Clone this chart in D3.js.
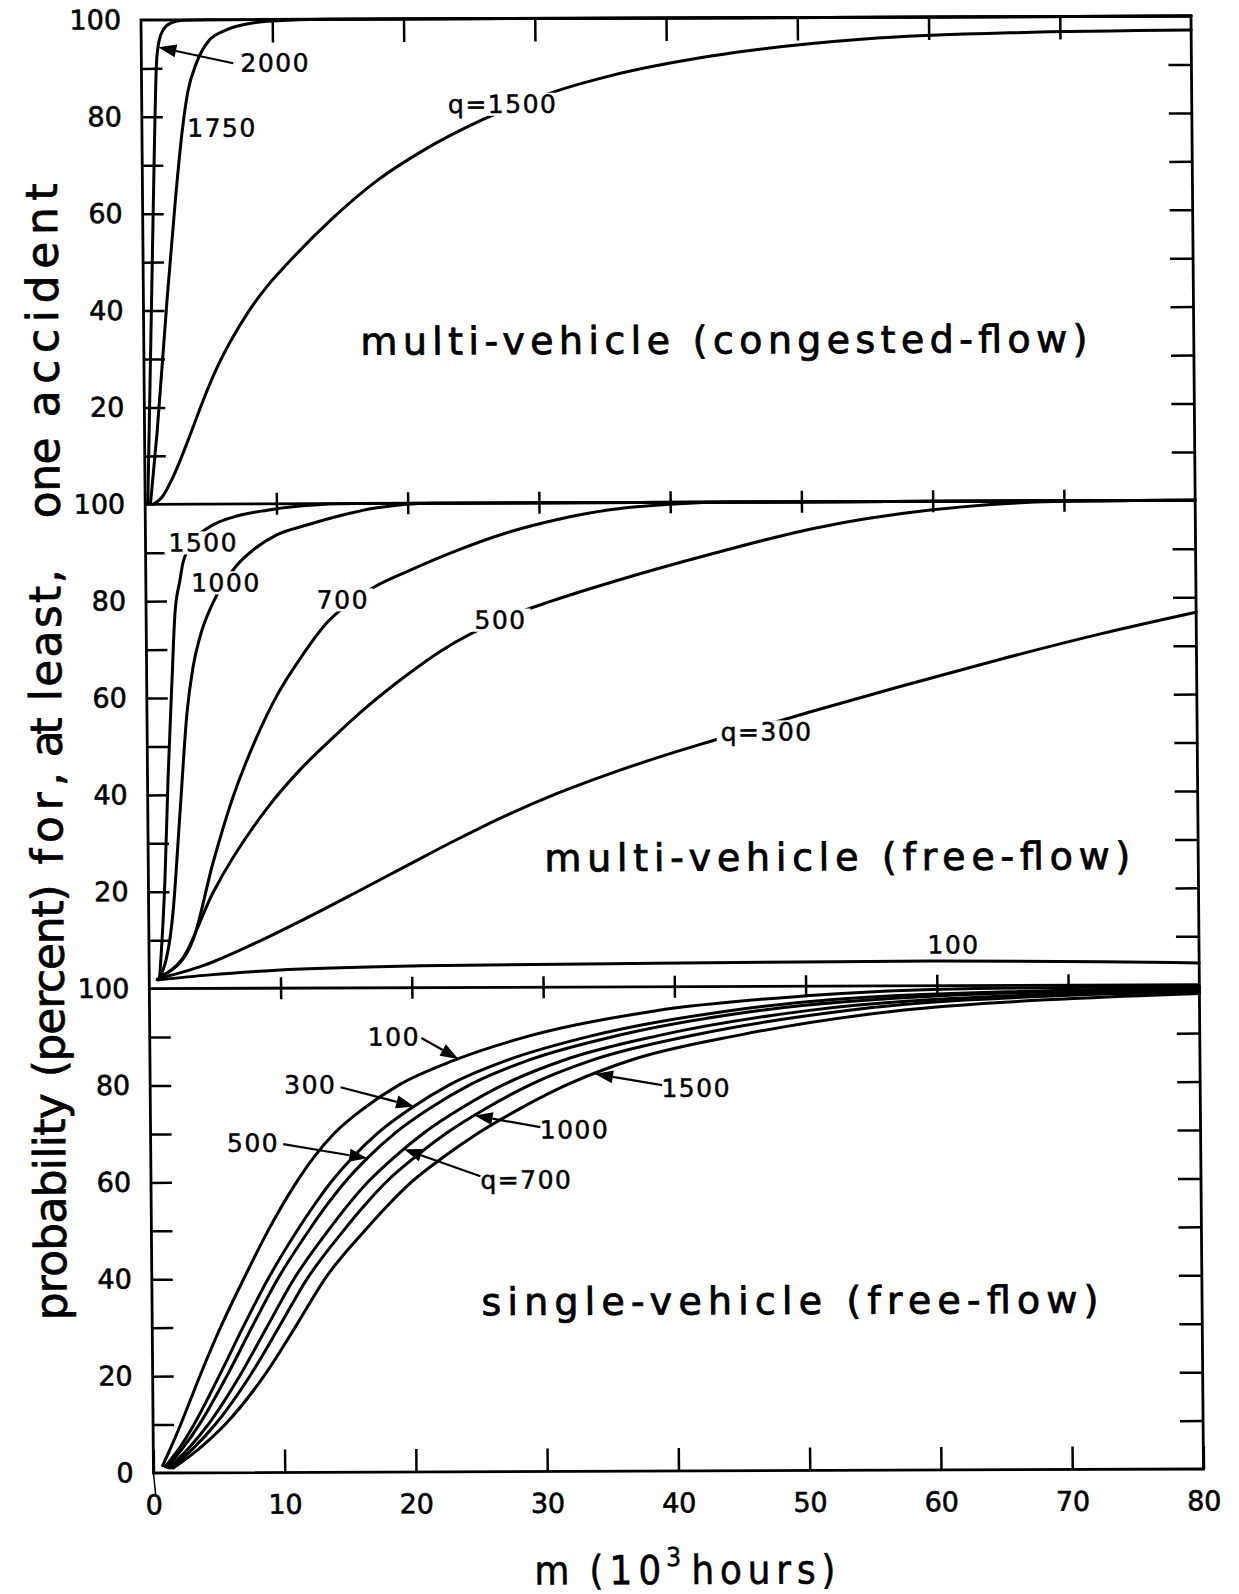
<!DOCTYPE html>
<html>
<head>
<meta charset="utf-8">
<script src="https://cdn.jsdelivr.net/npm/d3@7"></script>
<style>
  html, body { margin: 0; padding: 0; background: #fff; }
  svg { display: block; }
  text { font-family: "DejaVu Sans", "Liberation Sans", sans-serif; fill: #000; }
</style>
</head>
<body>
<svg id="chart" width="1239" height="1594"></svg>
<script>
// ---- axis values --------------------------------------------------------
const xTickValues = [0, 10, 20, 30, 40, 50, 60, 70, 80];      // m, 10^3 hours
const xInnerTicks = [10, 20, 30, 40, 50, 60, 70];
const yMinorTicks = [10, 20, 30, 40, 50, 60, 70, 80, 90];      // percent
const yLabelsUpper = [20, 40, 60, 80, 100];
const yLabelsLower = [0, 20, 40, 60, 80, 100];

const panelTitles = [
  "multi-vehicle (congested-flow)",
  "multi-vehicle (free-flow)",
  "single-vehicle (free-flow)"
];

// ---- multi-vehicle, congested flow: [m, probability %] ------------------
const congested2000 = [[0.2,0],[0.45,25],[0.7,50],[0.95,75],[1.15,91],[1.35,95.5],[1.7,98],[2.3,99.4],[3.2,99.9],[5,100],[80,100]];
const congested1750 = [[0.4,0],[0.95,14.7],[1.8,42.2],[2.5,62.8],[3.05,76.7],[3.5,84.9],[4.2,91.1],[5.2,95.8],[6.5,97.9],[8.5,99.3],[10,99.7],[14,100],[80,100]];
const congested1500 = [[0.6,0],[1.3,1.5],[2.1,5.4],[3.5,14.5],[4.5,21.5],[5.5,27.8],[6.7,34],[7.9,39.3],[9.4,44.8],[11,49.6],[14.5,59],[17.9,66.7],[21.2,72.5],[26,79.2],[31.7,85.1],[35.7,88.1],[43.4,92.1],[55.1,95.5],[66.7,96.7],[80,97.1]];

// ---- multi-vehicle, free flow --------------------------------------------
const free1500 = [[0.8,2.4],[1.26,22.4],[1.56,43.1],[1.93,63.7],[2.2,77.5],[2.6,84.3],[2.84,87.9],[3.8,92.8],[5.16,95.7],[6.7,97.3],[9.3,98.7],[12,99.6],[16,100],[80,100]];
const free1000 = [[0.85,2.8],[1.05,3.8],[1.85,15.6],[2.45,36.2],[3.05,56.9],[3.54,66.4],[4.09,72.6],[5.1,79.6],[6.96,87.4],[8.2,90.5],[10,93.6],[12.3,95.6],[15.6,98],[17.4,99],[22,100],[80,100]];
const free700  = [[0.8,2.5],[1.36,3.2],[3.36,10],[4.93,25.9],[6.5,39.5],[8.37,52],[9.93,60.5],[11.7,68],[13.8,75.5],[15.5,79.5],[17.5,82.9],[19.9,85.9],[23.7,90.2],[27.6,93.9],[31.5,96.6],[35.4,98.5],[40,99.6],[45,100],[80,100]];
const free500  = [[0.8,2.4],[2.5,6],[4.9,19.7],[9.1,37.2],[11.6,45],[14.2,51.8],[16.8,58.1],[19.7,64.3],[22.5,69.6],[27,75.9],[31,79.8],[35.4,83.5],[43.1,89.3],[50.9,94.5],[59.8,98.2],[65.7,99.5],[72,100],[80,100]];
const free300  = [[0.63,2],[4.1,4.7],[8,9.2],[11.9,14.3],[15.8,19.7],[19.7,25.2],[23.5,30.5],[27.4,35.6],[31.3,40.1],[35.2,44.0],[39.1,47.5],[43,50.7],[50.5,56.6],[57.4,61.8],[65,67.3],[72.7,72.5],[80,76.9]];
const free100  = [[0.6,1.8],[4.6,2.8],[9.7,3.7],[20.7,4.5],[35.1,4.8],[49.6,5.0],[59.6,5.1],[72.5,4.8],[80,4.5]];

// ---- single-vehicle, free flow -------------------------------------------
const single100  = [[0.7,1.5],[1.3,5],[2.1,10],[3.6,20],[5.2,30],[7.0,40],[8.9,50],[9.95,55],[11.1,60],[12.4,65],[14.0,70],[16.2,75],[19.0,80],[23.2,85],[29.0,90],[38.5,95],[50,98],[63,99.4],[80,99.7]];
const single300  = [[0.9,1.3],[1.96,5],[3.12,10],[5.07,20],[6.91,30],[8.86,40],[11.12,50],[12.37,55],[13.74,60],[15.37,65],[17.3,70],[19.8,75],[22.87,80],[27.28,85],[33.8,90],[44.2,95],[57,98],[80,99.3]];
const single500  = [[1.0,1.2],[2.22,5],[3.53,10],[5.66,20],[7.59,30],[9.6,40],[12.01,50],[13.33,55],[14.8,60],[16.56,65],[18.62,70],[21.24,75],[24.42,80],[28.91,85],[35.72,90],[46.48,95],[61,98],[80,99.1]];
const single700  = [[1.15,1.1],[2.66,5],[4.21,10],[6.64,20],[8.73,30],[10.84,40],[13.49,50],[14.94,55],[16.56,60],[18.54,65],[20.82,70],[23.64,75],[27.0,80],[31.63,85],[38.92,90],[50.28,95],[67,98],[80,98.8]];
const single1000 = [[1.3,1.0],[3.02,5],[4.75,10],[7.42,20],[9.65,30],[11.84,40],[14.67,50],[16.23,55],[17.96,60],[20.12,65],[22.58,70],[25.56,75],[29.06,80],[33.81,85],[41.48,90],[53.32,95],[71,98],[80,98.5]];
const single1500 = [[1.5,1.0],[3.5,5],[5.5,10],[8.5,20],[10.9,30],[13.2,40],[16.3,50],[18.0,55],[19.9,60],[22.3,65],[25.0,70],[28.2,75],[31.9,80],[36.8,85],[45.0,90],[57.5,95],[70,97.2],[80,98.2]];

// ---- curve labels (positions in m / percent) ----------------------------
const congestedLabels = [
  { text: "2000",   x: 10.2, y: 91.0, arrow: { curve: congested2000, tipX: 1.3, tailX: 7.0, tailY: 91.0 } },
  { text: "1750",   x: 6.1,  y: 77.6 },
  { text: "q=1500", x: 27.5, y: 82.3, mask: true }
];
const freeLabels = [
  { text: "1500",  x: 4.4,  y: 92.0, mask: true },
  { text: "1000",  x: 6.1,  y: 83.7, mask: true },
  { text: "700",   x: 15.0, y: 80.1, mask: true },
  { text: "500",   x: 27.0, y: 75.8, mask: true },
  { text: "q=300", x: 47.2, y: 52.5, mask: true },
  { text: "100",   x: 61.3, y: 8.4 }
];
const singleLabels = [
  { text: "100",   x: 18.6, y: 89.8, arrow: { curve: single100,  tipX: 23.5, tailX: 20.7, tailY: 89.6 } },
  { text: "300",   x: 12.2, y: 80.0, arrow: { curve: single300,  tipX: 20.1, tailX: 14.5, tailY: 79.5 } },
  { text: "500",   x: 7.8,  y: 68.0, arrow: { curve: single500,  tipX: 16.5, tailX: 10.1, tailY: 67.8 } },
  { text: "q=700", x: 28.6, y: 60.2, arrow: { curve: single700,  tipX: 19.3, tailX: 25.1, tailY: 61.0 } },
  { text: "1000",  x: 32.3, y: 70.5, arrow: { curve: single1000, tipX: 24.7, tailX: 29.7, tailY: 71.1 } },
  { text: "1500",  x: 41.6, y: 79.0, arrow: { curve: single1500, tipX: 33.9, tailX: 39.0, tailY: 79.7 } }
];

const panels = [
  { title: panelTitles[0], titleX: 44.2, titleY: 33.4, titleW: 727,
    curves: [congested2000, congested1750, congested1500], labels: congestedLabels, yLabels: yLabelsUpper },
  { title: panelTitles[1], titleX: 52.5, titleY: 26.6, titleW: 586,
    curves: [free1500, free1000, free700, free500, free300, free100], labels: freeLabels, yLabels: yLabelsUpper },
  { title: panelTitles[2], titleX: 48.6, titleY: 35.0, titleW: 617,
    curves: [single100, single300, single500, single700, single1000, single1500], labels: singleLabels, yLabels: yLabelsLower }
];

// ---- layout ---------------------------------------------------------------
const W = 1050, H = 1453, PH = H / 3;
const svg = d3.select("#chart");
svg.append("rect").attr("width", 1239).attr("height", 1594).attr("fill", "#fff");

// the whole figure sits slightly askew on the page
const g = svg.append("g")
  .attr("transform", "translate(141,20) matrix(1,-0.0038,0.0086,1,0,0)");

const x = d3.scaleLinear().domain([0, 80]).range([0, W]);

function ink(sel, w) {
  return sel.attr("stroke", "#000").attr("stroke-width", w).attr("paint-order", "stroke");
}

function styleAxis(sel, width) {
  sel.select(".domain").remove();
  sel.attr("font-family", null).attr("font-size", null);
  sel.selectAll("line").attr("stroke", "#000").attr("stroke-width", width);
  sel.selectAll("text").attr("font-size", 27).attr("fill", "#000").call(ink, 0.6);
}

function interpY(curve, xv) {
  for (let i = 1; i < curve.length; i++) {
    if (xv <= curve[i][0]) {
      const [x0, y0] = curve[i - 1], [x1, y1] = curve[i];
      return y0 + (y1 - y0) * (xv - x0) / (x1 - x0);
    }
  }
  return curve[curve.length - 1][1];
}

panels.forEach((p, i) => {
  const top = i * PH;
  const y = d3.scaleLinear().domain([0, 100]).range([top + PH, top]);

  // inward ticks on left and right edges
  g.append("g").call(d3.axisLeft(y).tickValues(yMinorTicks).tickSize(-21).tickFormat(""))
    .call(s => styleAxis(s, 2.5));
  g.append("g").attr("transform", `translate(${W},0)`)
    .call(d3.axisRight(y).tickValues(yMinorTicks).tickSize(-23).tickFormat(""))
    .call(s => styleAxis(s, 2.5));
  // tick labels on the left
  g.append("g").call(d3.axisLeft(y).tickValues(p.yLabels).tickSize(0).tickPadding(20).tickFormat(d3.format("d")))
    .call(s => styleAxis(s, 0));

  // curves
  const line = d3.line().x(d => x(d[0])).y(d => y(d[1])).curve(d3.curveMonotoneX);
  g.append("g").selectAll("path").data(p.curves).join("path")
    .attr("d", line)
    .attr("fill", "none").attr("stroke", "#000").attr("stroke-width", 3)
    .attr("stroke-linejoin", "round").attr("stroke-linecap", "round");

  // curve labels
  const lg = g.append("g");
  p.labels.forEach(l => {
    const t = lg.append("text")
      .attr("x", x(l.x)).attr("y", y(l.y))
      .attr("text-anchor", "middle").attr("dominant-baseline", "central")
      .attr("font-size", 25).attr("letter-spacing", 1.5)
      .call(ink, 0.5)
      .text(l.text);
    if (l.mask) {
      const bb = t.node().getBBox();
      lg.insert("rect", () => t.node())
        .attr("x", bb.x - 4).attr("y", bb.y + 3)
        .attr("width", bb.width + 8).attr("height", bb.height - 6)
        .attr("fill", "#fff");
    }
    if (l.arrow) {
      const a = l.arrow;
      const tx = x(a.tipX), ty = y(interpY(a.curve, a.tipX));
      const sx = x(a.tailX), sy = y(a.tailY);
      const dx = tx - sx, dy = ty - sy, len = Math.hypot(dx, dy);
      const ux = dx / len, uy = dy / len;
      const hl = 18, hw = 6.5;
      const bx = tx - ux * hl, by = ty - uy * hl;
      lg.append("line").attr("x1", sx).attr("y1", sy).attr("x2", bx).attr("y2", by)
        .attr("stroke", "#000").attr("stroke-width", 2.2);
      lg.append("path")
        .attr("d", `M${tx},${ty}L${bx - uy * hw},${by + ux * hw}L${bx + uy * hw},${by - ux * hw}Z`)
        .attr("fill", "#000");
    }
  });

  // panel title
  g.append("text")
    .attr("x", x(p.titleX)).attr("y", y(p.titleY))
    .attr("text-anchor", "middle").attr("dominant-baseline", "central")
    .attr("font-size", 38).call(ink, 0.8)
    .attr("textLength", p.titleW).attr("lengthAdjust", "spacing")
    .text(p.title);
});

// ticks along the top edge and across the panel boundaries
g.append("g").call(d3.axisTop(x).tickValues(xInnerTicks).tickSize(-23).tickFormat(""))
  .call(s => styleAxis(s, 2.5));
[PH, 2 * PH].forEach(yy => {
  g.append("g").attr("transform", `translate(0,${yy})`)
    .call(d3.axisBottom(x).tickValues(xInnerTicks).tickSize(11).tickFormat(""))
    .call(s => styleAxis(s, 2.5));
  g.append("g").attr("transform", `translate(0,${yy})`)
    .call(d3.axisTop(x).tickValues(xInnerTicks).tickSize(11).tickFormat(""))
    .call(s => styleAxis(s, 2.5));
});
// bottom axis with labels
g.append("g").attr("transform", `translate(0,${H})`)
  .call(d3.axisBottom(x).tickValues(xTickValues).tickSize(-23).tickPadding(22).tickFormat(d3.format("d")))
  .call(s => styleAxis(s, 2.5));

// frame and panel dividers
g.append("rect").attr("x", 0).attr("y", 0).attr("width", W).attr("height", H)
  .attr("fill", "none").attr("stroke", "#000").attr("stroke-width", 2.8);
[PH, 2 * PH].forEach(yy => {
  g.append("line").attr("x1", 0).attr("x2", W).attr("y1", yy).attr("y2", yy)
    .attr("stroke", "#000").attr("stroke-width", 2.8);
});
g.append("line").attr("x1", 0).attr("x2", 2).attr("y1", H).attr("y2", H + 22)
  .attr("stroke", "#000").attr("stroke-width", 1.5);

// y-axis title, word by word along the left margin (start, end measured upward)
const yTitleWords = [
  ["probability", 1300, 1073], ["(percent)", 1057, 864], ["for,", 844, 752],
  ["at", 737, 697], ["least,", 681, 549], ["one", 498, 417], ["accident", 397, 163]
];
const yt = g.append("g").attr("transform", "translate(-101,0) rotate(-90)");
yTitleWords.forEach(([w, a, b]) => {
  yt.append("text")
    .attr("x", -a).attr("y", 0)
    .attr("dominant-baseline", "central")
    .attr("font-size", 44).call(ink, 0.7)
    .attr("textLength", a - b).attr("lengthAdjust", "spacing")
    .text(w);
});

// x-axis title
const xTitleParts = [
  ["m", 380, 415, 0, 40], ["(10", 435, 507, 0, 40], ["3", 512, 525, -13, 26], ["hours)", 537, 681, 0, 40]
];
xTitleParts.forEach(([s, a, b, dy, fs]) => {
  g.append("text")
    .attr("x", a).attr("y", H + 99 + dy)
    .attr("dominant-baseline", "central")
    .attr("font-size", fs).call(ink, 0.5)
    .style("font-family", "'DejaVu Sans Condensed', 'Liberation Sans Narrow', sans-serif")
    .attr("textLength", b - a).attr("lengthAdjust", "spacing")
    .text(s);
});
</script>
</body>
</html>
